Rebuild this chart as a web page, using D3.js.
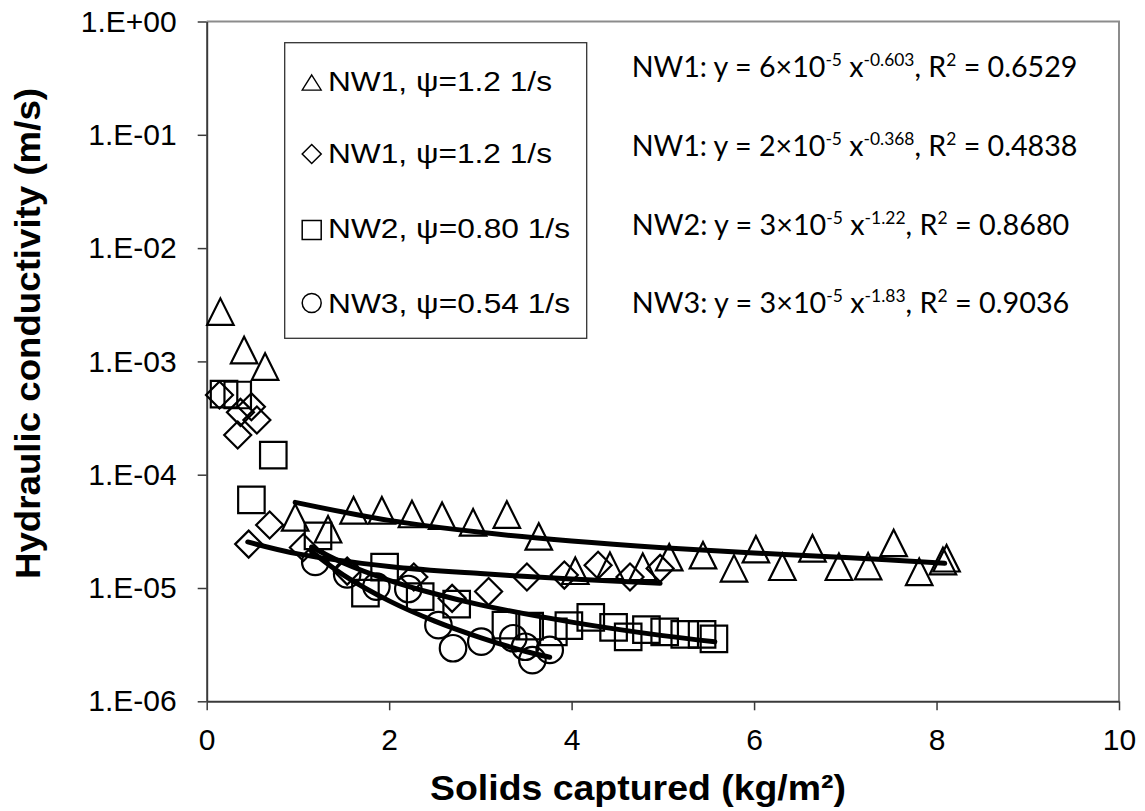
<!DOCTYPE html>
<html>
<head>
<meta charset="utf-8">
<script src="https://cdn.jsdelivr.net/npm/d3@7"></script>
<style>
  body { margin: 0; background: #fff; }
  text { fill: #000; }
</style>
</head>
<body>
<div id="chart"></div>
<script>
// ---- data ----
var xTicks = [0, 2, 4, 6, 8, 10];
var yTicks = [1e-6, 1e-5, 1e-4, 1e-3, 1e-2, 1e-1, 1];
var yTickLabels = ["1.E-06", "1.E-05", "1.E-04", "1.E-03", "1.E-02", "1.E-01", "1.E+00"];

// NW1, triangles
var nw1Tri = [[0.15, 2.75e-3], [0.41, 1.26e-3], [0.64, 9.0e-4], [0.97, 4.2e-5], [1.33, 3.3e-5],
  [1.61, 4.85e-5], [1.92, 4.85e-5], [2.25, 4.5e-5], [2.58, 4.35e-5], [2.92, 3.8e-5], [3.29, 4.45e-5],
  [3.64, 2.85e-5], [4.04, 1.42e-5], [4.42, 1.57e-5], [4.78, 1.54e-5], [5.07, 1.87e-5], [5.44, 1.95e-5],
  [5.78, 1.49e-5], [6.02, 2.2e-5], [6.31, 1.54e-5], [6.64, 2.24e-5], [6.93, 1.54e-5], [7.25, 1.56e-5],
  [7.53, 2.5e-5], [7.81, 1.39e-5], [8.07, 1.73e-5], [8.11, 1.83e-5]];
// NW1, diamonds
var nw1Dia = [[0.14, 5.05e-4], [0.37, 3.55e-4], [0.49, 3.98e-4], [0.55, 3.04e-4], [0.34, 2.24e-4],
  [0.46, 2.44e-5], [0.69, 3.6e-5], [1.06, 2.28e-5], [1.54, 1.41e-5], [2.27, 1.25e-5], [2.69, 8.1e-6],
  [3.09, 9.3e-6], [3.51, 1.25e-5], [3.92, 1.3e-5], [4.29, 1.59e-5], [4.64, 1.25e-5], [4.97, 1.49e-5]];
// NW2, squares
var nw2Sq = [[0.19, 5.15e-4], [0.34, 5.05e-4], [0.73, 1.49e-4], [0.49, 6.0e-5], [1.22, 2.88e-5],
  [1.95, 1.53e-5], [1.74, 9.0e-6], [2.34, 8.4e-6], [2.74, 7.2e-6], [3.28, 4.7e-6], [3.54, 4.6e-6],
  [3.80, 4.1e-6], [3.97, 4.65e-6], [4.21, 5.5e-6], [4.46, 4.5e-6], [4.62, 3.7e-6], [4.82, 4.3e-6],
  [5.02, 4.1e-6], [5.24, 3.9e-6], [5.43, 3.9e-6], [5.56, 3.55e-6]];
// NW3, circles
var nw3Circ = [[1.19, 1.7e-5], [1.54, 1.32e-5], [1.86, 1.03e-5], [2.21, 9.8e-6], [2.54, 4.7e-6],
  [2.70, 2.94e-6], [3.01, 3.36e-6], [3.36, 3.6e-6], [3.49, 3.03e-6], [3.76, 2.84e-6], [3.57, 2.31e-6]];

// power trend lines
var fitNW1Tri = [[0.97, 5.7e-5], [2, 3.95e-5], [3, 3.1e-5], [4, 2.6e-5], [5, 2.27e-5], [6, 2.04e-5], [7, 1.86e-5], [8.09, 1.65e-5]];
var fitNW1Dia = [[0.45, 2.55e-5], [1, 2.0e-5], [2, 1.55e-5], [3, 1.34e-5], [4, 1.2e-5], [4.97, 1.1e-5]];
var fitNW2 = [[1.15, 2.3e-5], [1.5, 1.66e-5], [2, 1.17e-5], [2.5, 8.9e-6], [3, 7.1e-6], [4, 5.0e-6], [5, 3.8e-6], [5.57, 3.36e-6]];
var fitNW3 = [[1.15, 2.1e-5], [1.5, 1.3e-5], [2, 7.7e-6], [2.5, 5.1e-6], [3, 3.65e-6], [3.5, 2.75e-6], [3.76, 2.45e-6]];

var legendLabels = ["NW1, \u03c8=1.2 1/s", "NW1, \u03c8=1.2 1/s", "NW2, \u03c8=0.80 1/s", "NW3, \u03c8=0.54 1/s"];
var eqNames = ["NW1", "NW1", "NW2", "NW3"];
var eqCoef = ["6", "2", "3", "3"];
var eqExp = ["-0.603", "-0.368", "-1.22", "-1.83"];
var eqR2 = ["0.6529", "0.4838", "0.8680", "0.9036"];

// ---- layout ----
var svgWidth = 1145;
var svgHeight = 811;
var plot = { left: 206.7, right: 1119, top: 21.5, bottom: 701.3 };

var svg = d3.select("#chart")
  .append("svg")
  .attr("width", svgWidth)
  .attr("height", svgHeight)
  .style("font-family", "'Liberation Sans', Arial, sans-serif");

svg.append("rect").attr("width", svgWidth).attr("height", svgHeight).attr("fill", "#fff");

var x = d3.scaleLinear().domain([0, 10]).range([plot.left, plot.right]);
var y = d3.scaleLog().domain([1e-6, 1]).range([plot.bottom, plot.top]);

// plot area border (top / right)
svg.append("path")
  .attr("d", `M${plot.left},${plot.top}H${plot.right}V${plot.bottom}`)
  .attr("fill", "none")
  .attr("stroke", "#8c8c8c")
  .attr("stroke-width", 2);

var yAxis = d3.axisLeft(y)
  .tickValues(yTicks)
  .tickFormat((d, i) => yTickLabels[i])
  .tickSize(9)
  .tickSizeOuter(0)
  .tickPadding(21);

var gy = svg.append("g")
  .attr("transform", `translate(${plot.left},0)`)
  .call(yAxis);

var xAxis = d3.axisBottom(x)
  .tickValues(xTicks)
  .tickSize(9)
  .tickSizeOuter(0)
  .tickPadding(18);

var gx = svg.append("g")
  .attr("transform", `translate(0,${plot.bottom})`)
  .call(xAxis);

[gx, gy].forEach(g => {
  g.select(".domain").attr("stroke", "#3a3a3a").attr("stroke-width", 2);
  g.selectAll(".tick line").attr("stroke", "#3a3a3a").attr("stroke-width", 1.5);
  g.selectAll(".tick text")
    .attr("fill", "#000")
    .style("font-family", "'Liberation Sans', Arial, sans-serif")
    .style("font-size", "30px");
});

// ---- markers ----
function shapePath(shape, s) {
  var h = s / 2;
  if (shape == "triangle") return `M0,${-h}L${h},${h}L${-h},${h}Z`;
  if (shape == "diamond") return `M0,${-h}L${h},0L0,${h}L${-h},0Z`;
  if (shape == "square") return `M${-h},${-h}H${h}V${h}H${-h}Z`;
  return d3.arc()({ innerRadius: 0, outerRadius: h, startAngle: 0, endAngle: 2 * Math.PI });
}

var seriesList = [
  { shape: "triangle", size: 26.5, pts: nw1Tri },
  { shape: "diamond", size: 27, pts: nw1Dia },
  { shape: "square", size: 26.5, pts: nw2Sq },
  { shape: "circle", size: 26.5, pts: nw3Circ }
];

seriesList.forEach(s => {
  svg.append("g").selectAll("path")
    .data(s.pts)
    .enter()
    .append("path")
    .attr("d", shapePath(s.shape, s.size))
    .attr("transform", d => `translate(${x(d[0])},${y(d[1])})`)
    .attr("fill", "none")
    .attr("stroke", "#000")
    .attr("stroke-width", 2.2);
});

// ---- trend lines ----
var line = d3.line()
  .x(d => x(d[0]))
  .y(d => y(d[1]))
  .curve(d3.curveCatmullRom);

[fitNW1Tri, fitNW1Dia, fitNW2, fitNW3].forEach(f => {
  svg.append("path")
    .datum(f)
    .attr("d", line)
    .attr("fill", "none")
    .attr("stroke", "#000")
    .attr("stroke-width", 5)
    .attr("stroke-linecap", "round");
});

// ---- legend ----
svg.append("rect")
  .attr("x", 284.7).attr("y", 42.7)
  .attr("width", 302).attr("height", 295.6)
  .attr("fill", "#fff")
  .attr("stroke", "#333")
  .attr("stroke-width", 1.3);

var legMarkY = [82.5, 154, 230, 303];
var legBase = [90.7, 163.3, 238.3, 313.3];
var legLen = [224, 224, 242, 242];
var legShapes = ["triangle", "diamond", "square", "circle"];

legendLabels.forEach((lab, i) => {
  var p = svg.append("path")
    .attr("d", shapePath(legShapes[i], 19))
    .attr("transform", `translate(311.7,${legMarkY[i]})`)
    .attr("fill", "none")
    .attr("stroke", "#000")
    .attr("stroke-width", 1.5);
  if (legShapes[i] == "triangle") p.attr("transform", `translate(311.7,${legMarkY[i]}) scale(1,0.8)`);
  svg.append("text")
    .attr("x", 328)
    .attr("y", legBase[i])
    .attr("textLength", legLen[i])
    .attr("lengthAdjust", "spacingAndGlyphs")
    .style("font-size", "27px")
    .text(lab);
});

// ---- equations ----
var eqBase = [77, 156, 235, 313];
var eqLen = [446, 446, 438, 438];

eqNames.forEach((nm, i) => {
  var t = svg.append("text")
    .attr("x", 631.7)
    .attr("y", eqBase[i])
    .style("font-family", "Lato, 'Open Sans', sans-serif")
    .style("font-size", "28px");
  t.append("tspan").text(`${nm}: y = ${eqCoef[i]}\u00d710`);
  t.append("tspan").attr("dy", -11).style("font-size", "17px").text("-5");
  t.append("tspan").attr("dy", 11).text(" x");
  t.append("tspan").attr("dy", -11).style("font-size", "17px").text(eqExp[i]);
  t.append("tspan").attr("dy", 11).text(", R");
  t.append("tspan").attr("dy", -11).style("font-size", "17px").text("2");
  t.append("tspan").attr("dy", 11).text(` = ${eqR2[i]}`);
  var w = t.node().getBBox().width;
  t.attr("transform", `translate(631.7,0) scale(${eqLen[i] / w},1) translate(-631.7,0)`);
});

// ---- axis titles ----
svg.append("text")
  .attr("transform", "translate(39.5,333.5) rotate(-90)")
  .attr("text-anchor", "middle")
  .attr("textLength", 491)
  .attr("lengthAdjust", "spacingAndGlyphs")
  .style("font-size", "35px")
  .style("font-weight", "bold")
  .text("Hydraulic conductivity (m/s)");

svg.append("text")
  .attr("x", 430)
  .attr("y", 800)
  .attr("textLength", 416)
  .attr("lengthAdjust", "spacingAndGlyphs")
  .style("font-size", "35px")
  .style("font-weight", "bold")
  .text("Solids captured (kg/m\u00b2)");
</script>
</body>
</html>
